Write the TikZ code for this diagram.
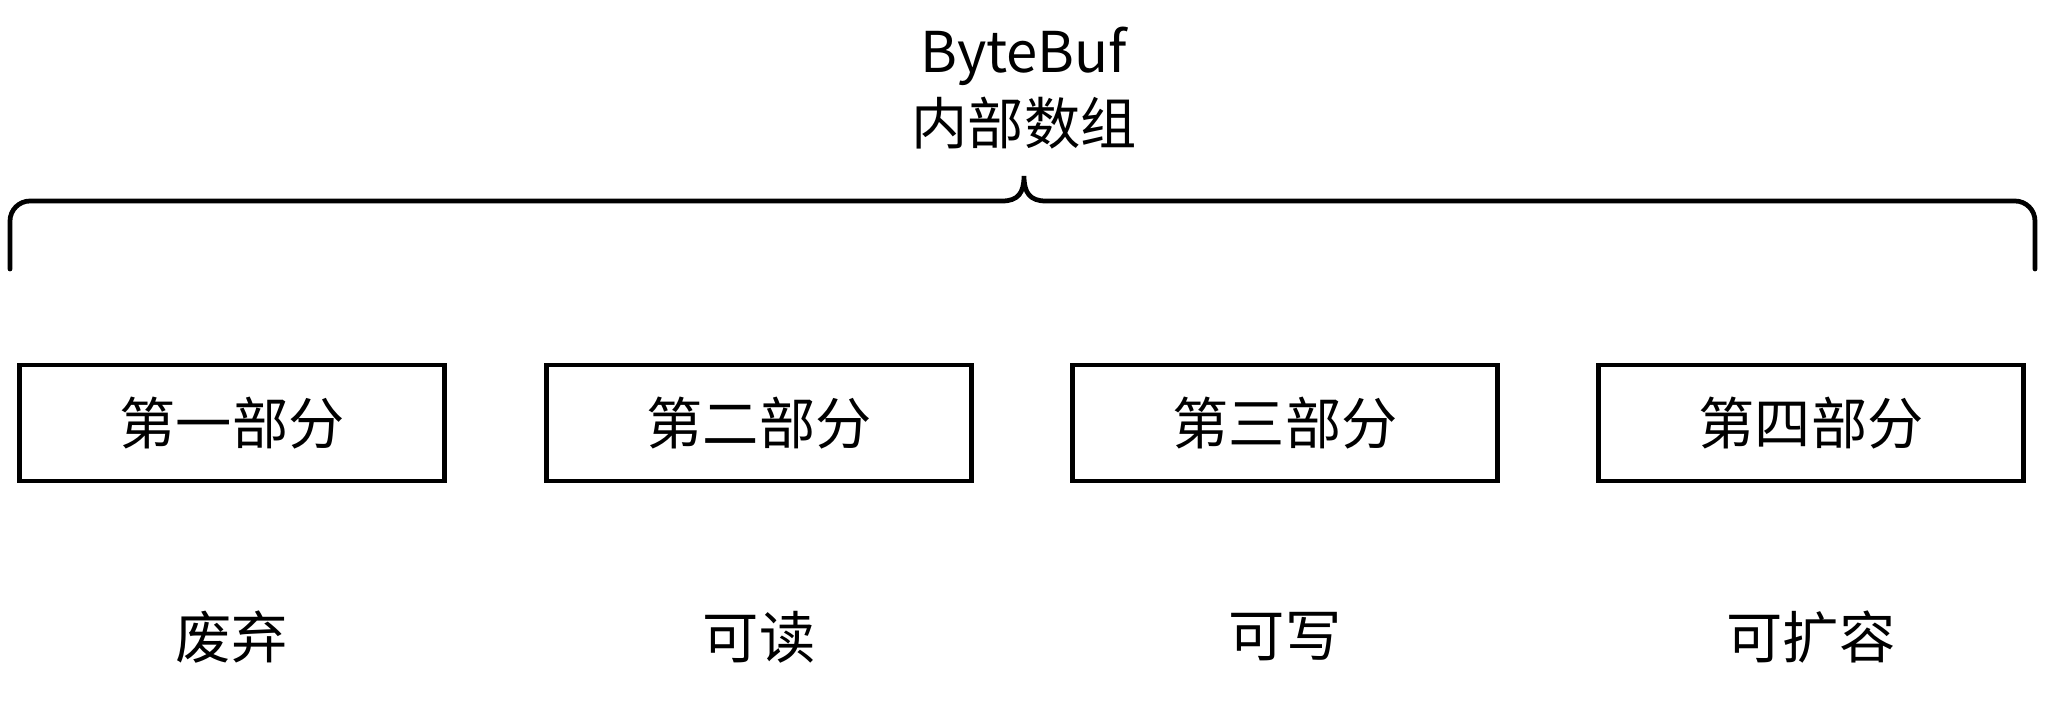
\documentclass[tikz,border=0pt]{standalone}
\usepackage{fontspec}
\setmainfont{Noto Sans CJK SC}
\usetikzlibrary{positioning}

\begin{document}
\begin{tikzpicture}[
	part/.style={draw,line width=1.15pt,minimum width=4.25cm,minimum height=1.16cm,inner sep=0pt,font=\fontsize{16}{20}\selectfont},
	role/.style={inner sep=0pt,font=\fontsize{16}{20}\selectfont},
	bracket/.style={line width=1.35pt,line cap=round}
	]
	\useasboundingbox (0,0) rectangle (20.48,7.09);
	
	% Titolo
	\node[align=center,inner sep=0pt,font=\fontsize{16}{20.5}\selectfont] (title) at (10.24,6.21) {ByteBuf\\内部数组};
	
	% Parentesi graffa
	\draw[bracket] (0.10,4.40) -- (0.10,4.88) arc[start angle=180,end angle=90,radius=0.2]
	-- (10.02,5.08) .. controls (10.18,5.08) and (10.24,5.16) .. (10.24,5.33)
	.. controls (10.24,5.16) and (10.30,5.08) .. (10.46,5.08)
	-- (20.15,5.08) arc[start angle=90,end angle=0,radius=0.2] -- (20.35,4.40);
	
	% Parti
	\node[part] (p1) at (2.32,2.86) {\raisebox{0.5mm}{第一部分}};
	\node[part] (p2) at (7.59,2.86) {\raisebox{0.5mm}{第二部分}};
	\node[part] (p3) at (12.85,2.86) {\raisebox{0.5mm}{第三部分}};
	\node[part] (p4) at (18.11,2.86) {\raisebox{0.5mm}{第四部分}};
	
	% Ruoli
	\node[role] (r1) at (2.32,0.72) {废弃};
	\node[role] (r2) at (7.59,0.72) {可读};
	\node[role] (r3) at (12.85,0.72) {可写};
	\node[role] (r4) at (18.11,0.72) {可扩容};
	
\end{tikzpicture}
\end{document}
